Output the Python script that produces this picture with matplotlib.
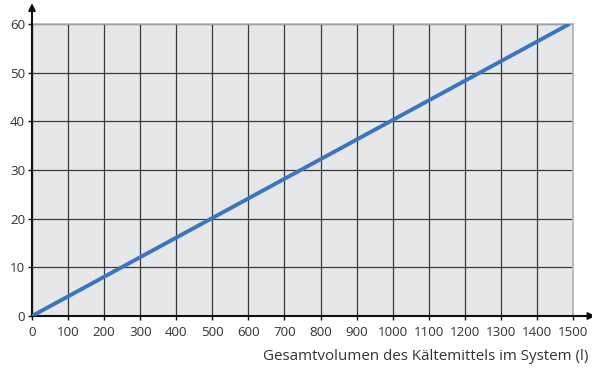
import matplotlib
matplotlib.use("Agg")
import matplotlib.pyplot as plt
import numpy as np

plt.rcParams['font.family'] = ['Open Sans', 'DejaVu Sans']

volume = [0, 1490]
values = [0, 60]
xticks = list(range(0, 1501, 100))
yticks = list(range(0, 61, 10))
xlabel = "Gesamtvolumen des Kältemittels im System (l)"

W, H = 592, 374
fig = plt.figure(figsize=(W/100, H/100), dpi=100)
x0, x1, y0, y1 = 32, 573, 316, 24
ax = fig.add_axes([x0/W, (H-y0)/H, (x1-x0)/W, (y0-y1)/H])
ax.set_facecolor('#e6e7e8')
ax.set_xlim(0, 1500)
ax.set_ylim(0, 60)
ax.set_xticks(xticks)
ax.set_yticks(yticks)
ax.grid(True, color='#3a3a3a', linewidth=0.9)
ax.set_axisbelow(True)
ax.plot(volume, values, color='#3a76c0', linewidth=2.8, solid_capstyle='butt', zorder=3)

for s in ['top', 'right']:
    ax.spines[s].set_color('#b4b4b4')
    ax.spines[s].set_linewidth(1.2)
for s in ['left', 'bottom']:
    ax.spines[s].set_color('#111111')
    ax.spines[s].set_linewidth(1.5)
ax.tick_params(axis='both', colors='#111111', length=3, width=1, labelsize=9.6,
               labelcolor='#333333', pad=2)
ax.tick_params(axis='x', pad=4)

# arrows
ax.annotate('', xy=(0, 64.3), xytext=(0, 59), xycoords='data',
            arrowprops=dict(arrowstyle='-|>', color='#111111', lw=1.5,
                            mutation_scale=10, shrinkA=0, shrinkB=0),
            annotation_clip=False)
ax.annotate('', xy=(1562, 0), xytext=(1490, 0), xycoords='data',
            arrowprops=dict(arrowstyle='-|>', color='#111111', lw=1.5,
                            mutation_scale=10, shrinkA=0, shrinkB=0),
            annotation_clip=False)

fig.text(588/W, (H-357)/H, xlabel, ha='right', va='center', fontsize=10.9, color='#333333')

fig.savefig('out.png', dpi=100)
